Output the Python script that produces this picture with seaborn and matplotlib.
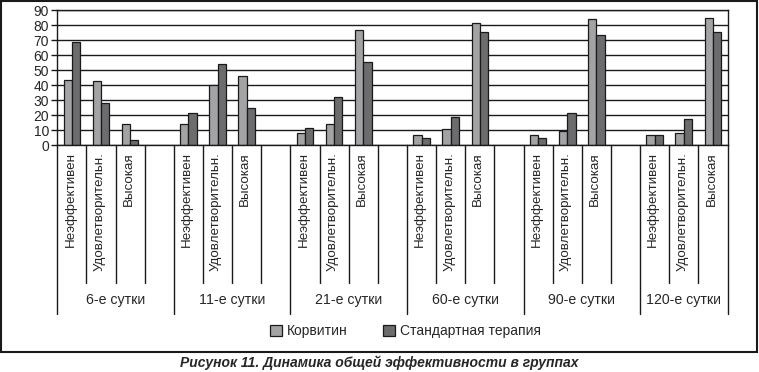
import matplotlib
matplotlib.use("Agg")
import matplotlib.pyplot as plt
from matplotlib.patches import Rectangle
import pandas as pd
import seaborn as sns

# Data
days = ["6-е сутки", "11-е сутки", "21-е сутки", "60-е сутки", "90-е сутки", "120-е сутки"]
levels = ["Неэффективен", "Удовлетворительн.", "Высокая"]
series = ["Корвитин", "Стандартная терапия"]

korvitin = [43.3, 42.7, 14, 14, 40, 46, 8, 14, 76.7, 6.7, 10.7, 81.3, 6.7, 9.3, 84, 6.7, 8, 84.7]
standard = [69, 28, 3.3, 21.3, 54, 24.7, 11.3, 32, 55.3, 4.7, 18.7, 75.3, 4.7, 21.3, 73.3, 6.7, 17.3, 75.3]

# Long table for seaborn
rows = []
k = 0
for d in days:
    for lv in levels:
        rows.append({"slot": f"{d}|{lv}", "value": korvitin[k], "series": series[0]})
        rows.append({"slot": f"{d}|{lv}", "value": standard[k], "series": series[1]})
        k += 1
df = pd.DataFrame(rows)

# category order: three levels per day and an empty slot between days
order = []
for i, d in enumerate(days):
    for lv in levels:
        order.append(f"{d}|{lv}")
    if i < len(days) - 1:
        order.append(f"{d}|gap")

sns.set_style("white")
plt.rcParams["font.family"] = ["Liberation Sans", "DejaVu Sans"]

fig = plt.figure(figsize=(7.59, 3.72), dpi=100)
ax = fig.add_axes([0.0755, 0.6094, 0.883, 0.3629])

sns.barplot(
    data=df,
    x="slot",
    y="value",
    hue="series",
    order=order,
    hue_order=series,
    palette=["#a3a3a7", "#6b6b70"],
    width=0.57,
    edgecolor="#1a1a1a",
    linewidth=0.9,
    ax=ax,
)

ax.set_xlim(-0.5, len(order) - 0.5)
ax.set_ylim(0, 90)
ax.set_yticks(range(0, 91, 10))
ax.yaxis.grid(True, color="#1a1a1a", linewidth=1)
ax.set_axisbelow(True)
ax.tick_params(axis="y", direction="out", length=4, width=1, color="#1a1a1a",
               labelsize=10, pad=2, left=True)
ax.set_xticks([])
ax.set_xlabel("")
ax.set_ylabel("")
for s in ax.spines.values():
    s.set_color("#1a1a1a")
    s.set_linewidth(1)

# hierarchical category labels
tr = ax.get_xaxis_transform()
for pos, name in enumerate(order):
    d, lv = name.split("|")
    if lv != "gap":
        ax.text(pos - 0.05, -0.05, lv, rotation=90, ha="center", va="top",
                fontsize=9.6, transform=tr, clip_on=False)

group_starts = [order.index(f"{d}|{levels[0]}") for d in days]
group_ends = group_starts[1:] + [len(order)]
long_marks = set(s - 0.5 for s in group_starts) | {len(order) - 0.5}
for b in [i - 0.5 for i in range(len(order) + 1)]:
    depth = -1.252 if b in long_marks else -1.022
    ax.plot([b, b], [0, depth], color="#1a1a1a", linewidth=1,
            transform=tr, clip_on=False)

for d, s, e in zip(days, group_starts, group_ends):
    ax.text((s + e - 1) / 2, -1.148, d, ha="center", va="center",
            fontsize=10.2, transform=tr, clip_on=False)

# legend below
handles, labels = ax.get_legend_handles_labels()
ax.legend_.remove()
fig.legend(handles, labels, loc="center", bbox_to_anchor=(0.534, 0.11), ncol=2,
           frameon=False, fontsize=10, handlelength=0.85, handleheight=0.85,
           handletextpad=0.35, columnspacing=2.6)

# outer frame and caption
fig.patches.append(Rectangle((0.0015, 0.054), 0.996, 0.943, transform=fig.transFigure,
                             fill=False, edgecolor="#1a1a1a", linewidth=1.5))
fig.text(0.5, 0.024, "Рисунок 11. Динамика общей эффективности в группах",
         ha="center", va="center", fontsize=10, fontweight="bold", fontstyle="italic",
         family=["Liberation Sans Narrow", "Liberation Sans", "DejaVu Sans"])

fig.savefig("out.png", dpi=100)
